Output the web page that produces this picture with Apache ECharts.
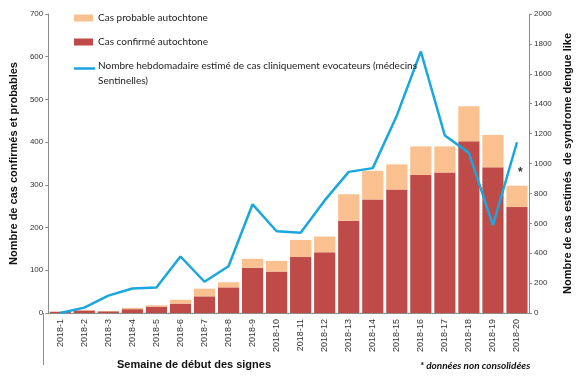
<!DOCTYPE html>
<html><head><meta charset="utf-8">
<script src="https://cdn.jsdelivr.net/npm/echarts@6/dist/echarts.min.js"></script>
<style>html,body{margin:0;padding:0;background:#fff}#c{width:587px;height:388px}</style>
</head><body><div id="c"></div>
<script>
const categories = ['2018-1','2018-2','2018-3','2018-4','2018-5','2018-6','2018-7','2018-8','2018-9','2018-10','2018-11','2018-12','2018-13','2018-14','2018-15','2018-16','2018-17','2018-18','2018-19','2018-20'];
const confirmed = [3,6,4,9,15,22,39,60,106,97,131,142,216,266,289,323,329,402,341,248];
const probable = [0,1,1,3,3,9,18,12,21,25,40,37,62,67,59,67,61,82,76,50];
const sentinel = [0,36,116,164,171,378,209,313,727,547,536,753,944,969,1320,1749,1187,1071,587,1142];
const leftTicks = {min:0,max:700,interval:100};
const rightTicks = {min:0,max:2000,interval:200};

const chart = echarts.init(document.getElementById('c'), null, {renderer:'canvas'});
const axisCol = '#8c8c8c';
const lineCol = '#1AA6DE';
chart.setOption({
  animation:false,
  textStyle:{fontFamily:'Liberation Sans, Arial, sans-serif'},
  grid:{left:43,right:58,top:14,bottom:75,containLabel:false},
  legend:{
    orient:'vertical', left:74, top:13, padding:0, itemWidth:19, itemHeight:7, itemGap:14,
    textStyle:{fontFamily:'Lato, Open Sans, sans-serif', fontSize:10, color:'#222'},
    data:[
      {name:'Cas probable autochtone', icon:'rect'},
      {name:'Cas confirmé autochtone', icon:'rect'},
      {name:'Nombre hebdomadaire estimé de cas cliniquement evocateurs (médecins', icon:'rect',
       itemStyle:{opacity:0}, lineStyle:{opacity:0}}
    ]
  },
  xAxis:{
    type:'category', data:categories,
    axisLine:{lineStyle:{color:axisCol}},
    axisTick:{show:false},
    axisLabel:{rotate:90, fontSize:9, color:'#333', margin:6, interval:0}
  },
  yAxis:[
    {type:'value', min:leftTicks.min, max:leftTicks.max, interval:leftTicks.interval,
     name:'Nombre de cas confirmés et probables', nameLocation:'middle', nameRotate:90, nameGap:23,
     nameTextStyle:{fontWeight:'bold', fontSize:11, color:'#111'},
     axisLine:{show:true,lineStyle:{color:axisCol}},
     axisTick:{show:true,length:3,lineStyle:{color:axisCol}},
     axisLabel:{fontSize:8, color:'#333', margin:5},
     splitLine:{show:false}},
    {type:'value', min:rightTicks.min, max:rightTicks.max, interval:rightTicks.interval, position:'right',
     name:'Nombre de cas estimés  de syndrome dengue like', nameLocation:'middle', nameRotate:90, nameGap:29,
     nameTextStyle:{fontWeight:'bold', fontSize:11, color:'#111'},
     axisLine:{show:true,lineStyle:{color:axisCol}},
     axisTick:{show:true,length:3,lineStyle:{color:axisCol}},
     axisLabel:{fontSize:8, color:'#333', margin:5, formatter:function(v){return String(v);}},
     splitLine:{show:false}}
  ],
  series:[
    {name:'Cas confirmé autochtone', type:'bar', stack:'a', data:confirmed, barCategoryGap:'12%',
     itemStyle:{color:'#BE4B48'}},
    {name:'Cas probable autochtone', type:'bar', stack:'a', data:probable,
     itemStyle:{color:'#FAC090'}},
    {name:'Nombre hebdomadaire estimé de cas cliniquement evocateurs (médecins', type:'line', yAxisIndex:1,
     data:sentinel, symbol:'none', lineStyle:{color:lineCol, width:2.5}, itemStyle:{color:lineCol}}
  ],
  graphic:[
    {type:'line', shape:{x1:43.5,y1:313,x2:43.5,y2:365}, style:{stroke:axisCol, lineWidth:1}},
    {type:'line', shape:{x1:74,y1:68.5,x2:95,y2:68.5}, style:{stroke:lineCol, lineWidth:2.5}},
    {type:'text', left:98, top:76, style:{text:'Sentinelles)', font:'10px Lato, sans-serif', fill:'#222'}},
    {type:'text', left:117, top:359, style:{text:'Semaine de début des signes', font:'bold 11px Liberation Sans, Arial, sans-serif', fill:'#111'}},
    {type:'text', left:420, top:361, style:{text:'* données non consolidées', font:'italic bold 10px Lato, sans-serif', fill:'#111'}},
    {type:'text', left:518, top:167, style:{text:'*', font:'bold 12px Liberation Sans, sans-serif', fill:'#333'}}
  ]
});
</script></body></html>
